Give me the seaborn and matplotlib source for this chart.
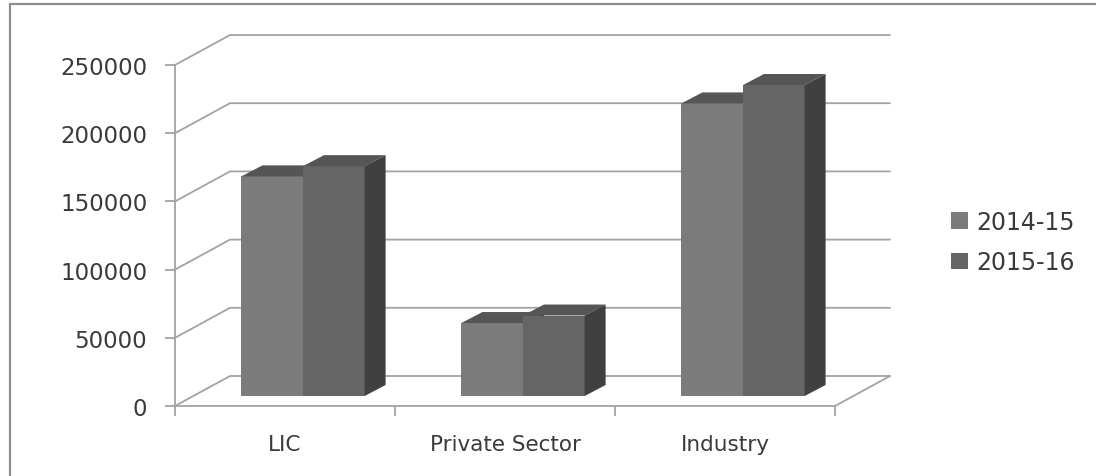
import numpy as np
import pandas as pd
import matplotlib
matplotlib.use("Agg")
import matplotlib.pyplot as plt
import seaborn as sns
from matplotlib.transforms import ScaledTranslation, IdentityTransform
from matplotlib.patches import Polygon, Patch
from matplotlib.lines import Line2D

# ---- data ----
categories = ["LIC", "Private Sector", "Industry"]
years = ["2014-15", "2015-16"]
values_2014_15 = [161000, 53500, 214500]
values_2015_16 = [168500, 59000, 228000]
y_ticks = [0, 50000, 100000, 150000, 200000, 250000]

# ---- style ----
front_colors = ["#7b7b7b", "#656565"]
top_color = "#555555"
side_color = "#404040"
grid_color = "#a3a3a3"
text_color = "#3a3a3a"

sns.set_theme(style="white")
plt.rcParams["font.family"] = ["DejaVu Sans"]

W, H = 1096, 477
fig = plt.figure(figsize=(W / 100, H / 100), dpi=100)
fig.patch.set_facecolor("white")
ax = fig.add_axes([175 / W, 70 / H, 660 / W, 341 / H])
ax.patch.set_visible(False)

df = pd.DataFrame({
    "Category": categories * 2,
    "Year": [years[0]] * 3 + [years[1]] * 3,
    "Value": values_2014_15 + values_2015_16,
})

sns.barplot(data=df, x="Category", y="Value", hue="Year", order=categories,
            hue_order=years, palette=front_colors, width=0.56, gap=0,
            dodge=True, errorbar=None, saturation=1, linewidth=0,
            legend=False, ax=ax)

ax.set_xlim(-0.5, 2.5)
ax.set_ylim(0, 250000)
ax.set_xlabel("")
ax.set_ylabel("")

# spines
for s in ["top", "right"]:
    ax.spines[s].set_visible(False)
for s in ["left", "bottom"]:
    ax.spines[s].set_color(grid_color)
    ax.spines[s].set_linewidth(1.3)

ax.set_yticks(y_ticks)
ax.set_yticklabels([str(v) for v in y_ticks])
ax.tick_params(axis="y", left=True, length=7, width=1.3, color=grid_color,
               pad=13, labelsize=16.5, labelcolor=text_color)
ax.set_xticks(range(len(categories)))
ax.set_xticklabels(categories)
ax.set_xticks([-0.5, 0.5, 1.5, 2.5], minor=True)
ax.tick_params(axis="x", which="major", bottom=True, length=0, pad=20,
               labelsize=15.5, labelcolor=text_color)
ax.tick_params(axis="x", which="minor", bottom=True, length=7, width=1.3,
               color=grid_color)

# ---- 3D depth geometry (pixels) ----
WALL_DX, WALL_DY = 55, 30      # back wall offset
BAR_DX, BAR_DY = 18, 10        # bar front-face offset
DEP_DX, DEP_DY = 21, 11        # bar depth

fig.canvas.draw()
ident = IdentityTransform()

# back wall / side wall gridlines
x_lo, x_hi = ax.get_xlim()
for v in y_ticks:
    p0 = ax.transData.transform((x_lo, v))
    p1 = p0 + np.array([WALL_DX, WALL_DY])
    p2 = ax.transData.transform((x_hi, v)) + np.array([WALL_DX, WALL_DY])
    fig.add_artist(Line2D([p0[0], p1[0], p2[0]], [p0[1], p1[1], p2[1]],
                          transform=ident, color=grid_color, lw=1.3, zorder=-1))
# floor right edge
q0 = ax.transData.transform((x_hi, 0))
q1 = q0 + np.array([WALL_DX, WALL_DY])
fig.add_artist(Line2D([q0[0], q1[0]], [q0[1], q1[1]], transform=ident,
                      color=grid_color, lw=1.3, zorder=-1))

# bars: shift fronts into depth and add top / side faces
bar_shift = ax.transData + ScaledTranslation(BAR_DX / 100, BAR_DY / 100,
                                             fig.dpi_scale_trans)
off = np.array([BAR_DX, BAR_DY])
dep = np.array([DEP_DX, DEP_DY])
for i, cont in enumerate(ax.containers):
    for bar in cont:
        x0, w, h = bar.get_x(), bar.get_width(), bar.get_height()
        bar.set_transform(bar_shift)
        bar.set_zorder(3 + i)
        tl = ax.transData.transform((x0, h)) + off
        tr = ax.transData.transform((x0 + w, h)) + off
        br = ax.transData.transform((x0 + w, 0)) + off
        top = Polygon([tl, tr, tr + dep, tl + dep], closed=True,
                      transform=ident, facecolor=top_color, edgecolor="none",
                      zorder=3 + i)
        side = Polygon([br, tr, tr + dep, br + dep], closed=True,
                       transform=ident, facecolor=side_color, edgecolor="none",
                       zorder=3 + i)
        ax.add_artist(top)
        ax.add_artist(side)
        top.set_clip_on(False)
        side.set_clip_on(False)

# outer frame
fig.add_artist(Line2D([10, 10], [0, H - 5], transform=ident,
                      color="#8e8e8e", lw=1.6, zorder=-1))
fig.add_artist(Line2D([10, W], [H - 5, H - 5], transform=ident,
                      color="#8e8e8e", lw=1.6, zorder=-1))

# legend
handles = [Patch(facecolor=c, edgecolor="none") for c in front_colors]
fig.legend(handles, years, loc="center left",
           bbox_to_anchor=(951 / W, 1 - 243 / H), frameon=False,
           fontsize=17, labelcolor=text_color, handlelength=0.7,
           handleheight=0.7, handletextpad=0.35, labelspacing=0.7,
           borderpad=0, borderaxespad=0)

fig.savefig("out.png", dpi=100)
